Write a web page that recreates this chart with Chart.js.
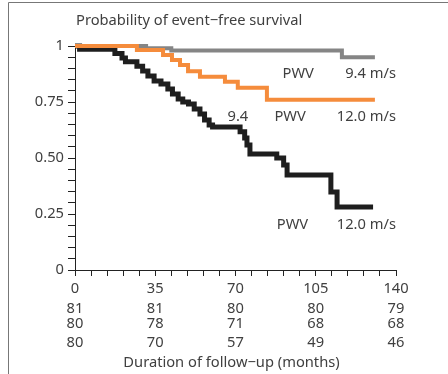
<!DOCTYPE html>
<html>
<head>
<meta charset="utf-8">
<script src="https://cdn.jsdelivr.net/npm/chart.js@4"></script>
<style>
  html, body { margin: 0; padding: 0; background: #fff; }
  #wrap { position: relative; width: 448px; height: 374px; }
</style>
</head>
<body>
<div id="wrap"><canvas id="kmChart" width="448" height="374"></canvas></div>
<script>
// Kaplan-Meier steps: months and survival after each step
const lowMonths  = [0, 31, 42, 116.4, 130.8];
const lowSurv    = [1, 0.99, 0.98, 0.95, 0.95];

const midMonths  = [0, 27, 38.4, 42.3, 45.8, 49.3, 54.5, 65.4, 71, 83.7, 130.8];
const midSurv    = [1, 0.982, 0.96, 0.9375, 0.915, 0.887, 0.863, 0.84, 0.814, 0.76, 0.76];

const highMonths = [0, 2, 17.4, 20.5, 22, 27, 29.5, 31.8, 34.5, 37.5, 40.5, 42.5, 45, 47, 49.5,
                    52, 54.5, 56.5, 58.5, 60, 72, 74, 75, 76.3, 88, 91, 92.5, 111.6, 114.3, 130];
const highSurv   = [1, 0.985, 0.967, 0.946, 0.93, 0.91, 0.888, 0.866, 0.844, 0.83, 0.808, 0.786, 0.763, 0.75, 0.741,
                    0.719, 0.696, 0.67, 0.647, 0.638, 0.617, 0.589, 0.558, 0.518, 0.5, 0.469, 0.424, 0.348, 0.281, 0.281];

// numbers at risk under the x axis
const riskMonths = [0, 35, 70, 105, 140];
const riskLow    = [81, 81, 80, 80, 79];
const riskMid    = [80, 78, 71, 68, 68];
const riskHigh   = [80, 70, 57, 49, 46];

// curve labels (anchored in data units)
const curveLabels = [
    { text: 'PWV', x: 90.5, y: 0.875, align: 'left' },
    { text: '9.4 m/s', x: 140, y: 0.875, align: 'right' },
    { text: '9.4', x: 66.5, y: 0.683, align: 'left' },
    { text: 'PWV', x: 87, y: 0.683, align: 'left' },
    { text: '12.0 m/s', x: 140, y: 0.683, align: 'right' },
    { text: 'PWV', x: 88, y: 0.2, align: 'left' },
    { text: '12.0 m/s', x: 140, y: 0.2, align: 'right' }
];

const FONT = '"Noto Sans", "DejaVu Sans", sans-serif';
const FSIZE = 14.7;
const TEXT = '#404040';

const toPoints = (xs, ys) => xs.map((x, i) => ({ x: x, y: ys[i] }));

const textPlugin = {
    id: 'kmText',
    afterDraw(chart) {
        const c = chart.ctx;
        const xs = chart.scales.x;
        const ys = chart.scales.y;
        const bottom = chart.chartArea.bottom;
        c.save();

        // frame
        c.strokeStyle = '#777';
        c.lineWidth = 1;
        c.beginPath();
        c.moveTo(8.5, 374);
        c.lineTo(8.5, 2.5);
        c.lineTo(448, 2.5);
        c.stroke();

        c.fillStyle = TEXT;
        c.font = FSIZE + 'px ' + FONT;
        c.textBaseline = 'middle';

        // y title
        c.textAlign = 'left';
        c.fillText('Probability of event\u2212free survival', 76, 21);

        // curve labels
        curveLabels.forEach(l => {
            c.textAlign = l.align;
            c.fillText(l.text, xs.getPixelForValue(l.x), ys.getPixelForValue(l.y));
        });

        // risk table
        c.textAlign = 'center';
        const rows = [[riskLow, 39], [riskMid, 54], [riskHigh, 73]];
        rows.forEach(([vals, off]) => {
            vals.forEach((v, i) => {
                c.fillText(String(v), xs.getPixelForValue(riskMonths[i]), bottom + off);
            });
        });

        // x title
        c.fillText('Duration of follow\u2212up (months)', (chart.chartArea.left + chart.chartArea.right) / 2 - 4, bottom + 93);
        c.restore();
    }
};

const ctx = document.getElementById('kmChart').getContext('2d');

new Chart(ctx, {
    type: 'line',
    data: {
        datasets: [
            {
                label: 'PWV high',
                data: toPoints(highMonths, highSurv),
                borderColor: '#1e1e1e',
                borderWidth: 5,
                order: 2
            },
            {
                label: 'PWV mid',
                data: toPoints(midMonths, midSurv),
                borderColor: '#f58c3c',
                borderWidth: 4,
                order: 1
            },
            {
                label: 'PWV low',
                data: toPoints(lowMonths, lowSurv),
                borderColor: '#858585',
                borderWidth: 4,
                order: 3
            }
        ]
    },
    options: {
        responsive: false,
        animation: false,
        datasets: {
            line: {
                stepped: true,
                pointRadius: 0,
                fill: false,
                clip: false,
                borderJoinStyle: 'miter'
            }
        },
        layout: { padding: { left: 8, top: 46, right: 52, bottom: 0 } },
        plugins: {
            legend: { display: false },
            tooltip: { enabled: false }
        },
        scales: {
            x: {
                type: 'linear',
                min: 0,
                max: 140,
                afterFit: s => { s.height = 104; },
                ticks: {
                    stepSize: 7,
                    autoSkip: false,
                    maxRotation: 0,
                    padding: 4,
                    color: TEXT,
                    font: { family: FONT, size: FSIZE },
                    callback: v => (Math.round(v) % 35 === 0 ? String(Math.round(v)) : '')
                },
                grid: { drawOnChartArea: false, drawTicks: true, tickLength: 6, color: '#222', lineWidth: 1 },
                border: { display: true, color: '#222', width: 1 }
            },
            y: {
                min: 0,
                max: 1,
                afterFit: s => { s.width = 67; },
                ticks: {
                    stepSize: 0.05,
                    autoSkip: false,
                    padding: 4,
                    color: TEXT,
                    font: { family: FONT, size: FSIZE },
                    callback: v => {
                        const k = Math.round(v * 100);
                        if (k % 25 !== 0) return '';
                        if (k === 100) return '1';
                        if (k === 0) return '0';
                        return (k / 100).toFixed(2);
                    }
                },
                grid: { drawOnChartArea: false, drawTicks: true, tickLength: 7, color: '#222', lineWidth: 1 },
                border: { display: true, color: '#222', width: 1 }
            }
        }
    },
    plugins: [textPlugin]
});
</script>
</body>
</html>
